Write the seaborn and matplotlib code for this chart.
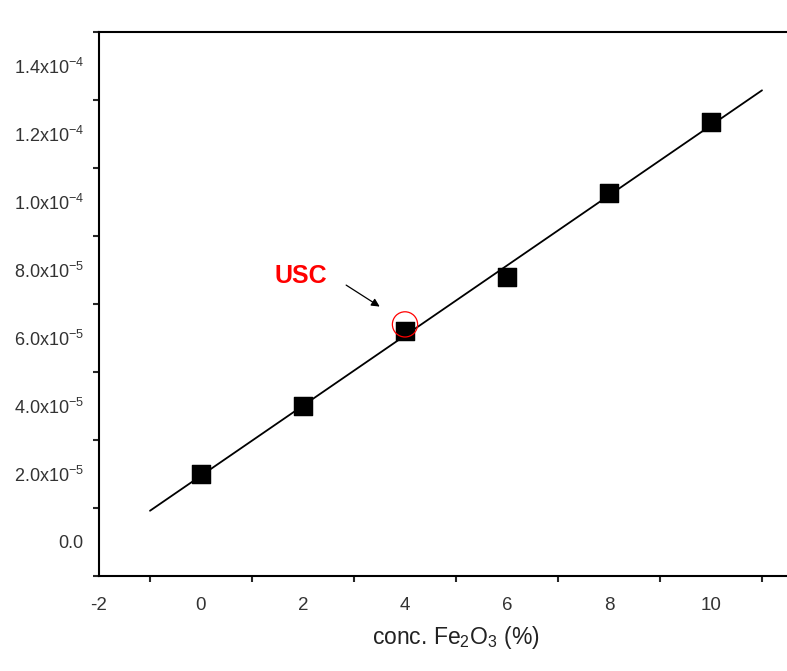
import numpy as np
import pandas as pd
import seaborn as sns
import matplotlib.pyplot as plt
from matplotlib.ticker import MultipleLocator, FixedLocator

# data
conc = [0, 2, 4, 6, 8, 10]
value = [2.0e-5, 4.0e-5, 6.2e-5, 7.8e-5, 10.26e-5, 12.35e-5]
ytick_vals = [0, 2e-5, 4e-5, 6e-5, 8e-5, 1.0e-4, 1.2e-4, 1.4e-4]
ytick_labels = ["0.0", "2.0x10$^{-5}$", "4.0x10$^{-5}$", "6.0x10$^{-5}$",
                "8.0x10$^{-5}$", "1.0x10$^{-4}$", "1.2x10$^{-4}$", "1.4x10$^{-4}$"]
usc_x, usc_y = 4, 6.4e-5

df = pd.DataFrame({'conc': conc, 'value': value})

sns.set_style('white')
plt.rcParams['font.family'] = ['Liberation Sans', 'DejaVu Sans']
plt.rcParams['mathtext.fontset'] = 'custom'
plt.rcParams['mathtext.rm'] = 'Liberation Sans'
plt.rcParams['mathtext.it'] = 'Liberation Sans'
plt.rcParams['mathtext.default'] = 'regular'
plt.rcParams['axes.unicode_minus'] = False

fig = plt.figure(figsize=(7.87, 6.71), dpi=100)
ax = fig.add_axes([99/787, 1 - 576/671, 714/787, 544/671])

# linear fit line from -1 to 11
slope, intercept = np.polyfit(conc, value, 1)
fit_x = np.array([-1, 11])
sns.lineplot(x=fit_x, y=slope*fit_x + intercept, color='black', lw=1.3, ax=ax)
sns.scatterplot(data=df, x='conc', y='value', marker='s', s=170, color='black',
                edgecolor='black', ax=ax, zorder=3)

# USC annotation
ax.scatter([usc_x], [usc_y], s=330, facecolors='none', edgecolors='red', lw=0.9, zorder=4)
ax.annotate('', xy=(3.55, 6.88e-5), xytext=(2.8, 7.6e-5),
            arrowprops=dict(arrowstyle='-|>', color='black', lw=0.9, mutation_scale=12))
ax.text(1.95, 7.82e-5, 'USC', color='red', fontsize=18, fontweight='bold',
        ha='center', va='center')

ax.set_xlim(-2, 12)
ax.set_ylim(-1.0e-5, 1.5e-4)
ax.xaxis.set_major_locator(FixedLocator([-2, 0, 2, 4, 6, 8, 10]))
ax.xaxis.set_minor_locator(MultipleLocator(1))
ax.yaxis.set_major_locator(FixedLocator(ytick_vals))
ax.yaxis.set_minor_locator(MultipleLocator(1e-5))
ax.set_yticklabels(ytick_labels)

for side in ['left', 'bottom', 'top', 'right']:
    ax.spines[side].set_linewidth(1.5)
    ax.spines[side].set_color('black')

ax.tick_params(which='major', direction='out', length=8, width=1.6,
               colors='black', top=False, right=False)
ax.tick_params(which='minor', direction='out', length=4, width=1.5, top=False, right=False,
               left=True, bottom=True)
ax.tick_params(axis='y', which='major', labelsize=13, pad=3)
ax.tick_params(axis='x', which='major', length=9, labelsize=13.5, pad=6)
for lbl in ax.get_xticklabels() + ax.get_yticklabels():
    lbl.set_color('#333333')

ax.set_xlabel('conc. Fe$_2$O$_3$ (%)', fontsize=16.5, color='#222222', labelpad=7)
ax.set_ylabel('')

plt.savefig('out.png', dpi=100)
